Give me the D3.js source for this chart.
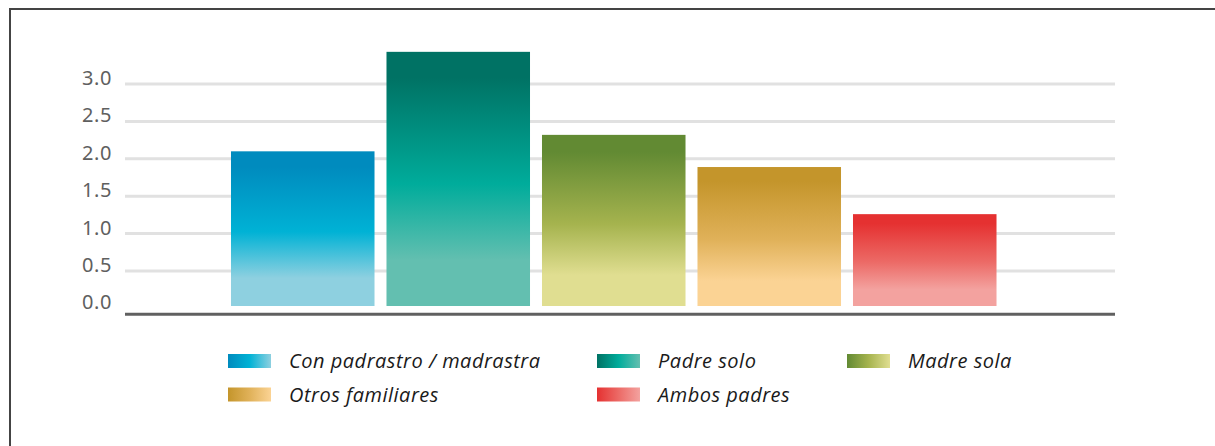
<!DOCTYPE html>
<html>
<head>
<meta charset="utf-8">
<script src="https://cdn.jsdelivr.net/npm/d3@7"></script>
<style>
  body { margin: 0; background: #fff; }
  svg { display: block; }
</style>
</head>
<body>
<div id="chart"></div>
<script>
// data
const categories = ["Con padrastro / madrastra", "Padre solo", "Madre sola", "Otros familiares", "Ambos padres"]
const values = [2.1, 3.43, 2.32, 1.89, 1.26]
const yTicks = [0, 0.5, 1, 1.5, 2, 2.5, 3]
const darkColors = ["#008bbe", "#007264", "#628a33", "#c4952b", "#e53131"]
const midColors = ["#00b2d5", "#00ac9b", "#a5b34e", "#e0b159", "#ec6a66"]
const lightColors = ["#8ed0e0", "#63bfb0", "#e0de91", "#fbd394", "#f3a29f"]
const legendOrder = [0, 1, 2, 3, 4]

const W = 1215, H = 446

const svg = d3.select("#chart").append("svg")
  .attr("width", W)
  .attr("height", H)

const defs = svg.append("defs")

// vertical gradients for the bars, horizontal ones for the legend
categories.forEach((c, i) => {
  const v = defs.append("linearGradient")
    .attr("id", "gv" + i)
    .attr("x1", 0).attr("y1", 0).attr("x2", 0).attr("y2", 1)
  v.append("stop").attr("offset", 0).attr("stop-color", darkColors[i])
  v.append("stop").attr("offset", 0.1).attr("stop-color", darkColors[i])
  v.append("stop").attr("offset", 0.52).attr("stop-color", midColors[i])
  v.append("stop").attr("offset", 0.82).attr("stop-color", lightColors[i])
  v.append("stop").attr("offset", 1).attr("stop-color", lightColors[i])

  const h = defs.append("linearGradient")
    .attr("id", "gh" + i)
    .attr("x1", 0).attr("y1", 0).attr("x2", 1).attr("y2", 0)
  h.append("stop").attr("offset", 0).attr("stop-color", darkColors[i])
  h.append("stop").attr("offset", 0.5).attr("stop-color", midColors[i])
  h.append("stop").attr("offset", 1).attr("stop-color", lightColors[i])
})

// frame
svg.append("line")
  .attr("x1", 9).attr("x2", W).attr("y1", 9).attr("y2", 9)
  .attr("stroke", "#444").attr("stroke-width", 2)
svg.append("line")
  .attr("x1", 10).attr("x2", 10).attr("y1", 8).attr("y2", H)
  .attr("stroke", "#444").attr("stroke-width", 2)

// scales
const y = d3.scaleLinear().domain([0, 3]).range([308.4, 84])
const x = d3.scaleBand()
  .domain(categories)
  .range([225, 1002.5])
  .paddingInner(0.077)
  .paddingOuter(0.0385)

// grid
svg.append("g")
  .selectAll("line")
  .data(yTicks.filter(d => d > 0))
  .join("line")
  .attr("x1", 125).attr("x2", 1115)
  .attr("y1", d => y(d)).attr("y2", d => y(d))
  .attr("stroke", "#e1e1e1")
  .attr("stroke-width", 3)

// y labels
svg.append("g")
  .selectAll("text")
  .data(yTicks)
  .join("text")
  .attr("x", 112)
  .attr("y", d => y(d) + 1)
  .attr("text-anchor", "end")
  .attr("font-family", "'Noto Sans', sans-serif")
  .attr("font-size", 20)
  .attr("letter-spacing", 0.6)
  .attr("fill", "#5f5f5f")
  .text(d => d.toFixed(1))

// bars
svg.append("g")
  .selectAll("rect")
  .data(values)
  .join("rect")
  .attr("x", (d, i) => x(categories[i]))
  .attr("width", x.bandwidth())
  .attr("y", d => y(d))
  .attr("height", d => y(0) - 2.4 - y(d))
  .attr("fill", (d, i) => "url(#gv" + i + ")")

// axis line
svg.append("line")
  .attr("x1", 125).attr("x2", 1115)
  .attr("y1", 314.3).attr("y2", 314.3)
  .attr("stroke", "#606060")
  .attr("stroke-width", 3)

// legend
const colX = [228, 597, 847]
const rowY = [354, 387.5]
const leg = svg.append("g")
  .selectAll("g")
  .data(legendOrder)
  .join("g")
  .attr("transform", (d, k) => `translate(${colX[k % 3]},${rowY[Math.floor(k / 3)]})`)

leg.append("rect")
  .attr("width", 43)
  .attr("height", 14)
  .attr("fill", d => "url(#gh" + d + ")")

leg.append("text")
  .attr("x", 61)
  .attr("y", 14)
  .attr("font-family", "'Open Sans', sans-serif")
  .attr("font-style", "italic")
  .attr("font-weight", 500)
  .attr("font-size", 20)
  .attr("letter-spacing", 0.5)
  .attr("fill", "#1a1a1a")
  .text(d => categories[d])
</script>
</body>
</html>
